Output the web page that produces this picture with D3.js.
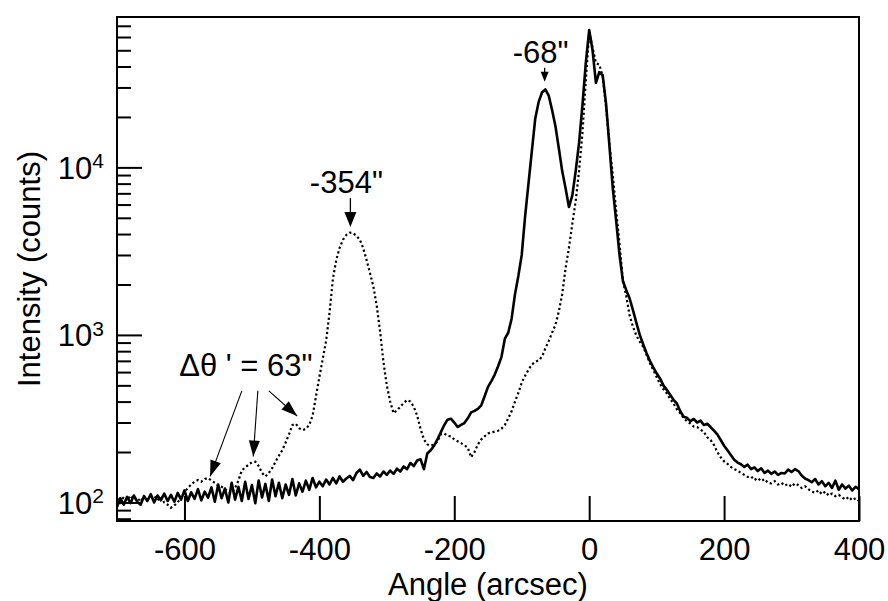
<!DOCTYPE html>
<html>
<head>
<meta charset="utf-8">
<script src="https://cdn.jsdelivr.net/npm/d3@7"></script>
<style>
  html, body { margin: 0; padding: 0; background: #fff; }
  svg { display: block; font-family: "Liberation Sans", Arial, Helvetica, sans-serif; }
</style>
</head>
<body>
<svg id="chart" width="888" height="601"></svg>
<script>
// Rocking curves, sampled every 5 arcsec from -700 to +400
const ANGLE_START = -700;
const ANGLE_STEP = 5;

// solid curve (counts)
const solidCounts = [
  94, 106, 97, 108, 99, 110, 101, 97, 109, 102,           // -700
  112, 100, 110, 103, 113, 102, 111, 101, 114, 104,       // -650
  118, 102, 115, 105, 120, 103, 116, 107, 123, 101,       // -600
  128, 106, 121, 100, 131, 104, 124, 102, 133, 105,       // -550
  127, 99, 135, 107, 129, 102, 137, 109, 131, 106,        // -500
  128, 111, 138, 110, 130, 116, 135, 119, 140, 123,       // -450
  133, 125, 137, 128, 140, 130, 143, 133, 139, 144,       // -400
  136, 150, 157, 144, 152, 142, 140, 149, 143, 153,       // -350
  146, 155, 148, 159, 153, 164, 158, 172, 165, 178,       // -300
  181, 158, 196, 205, 218, 238, 262, 289, 312, 316,       // -250
  300, 282, 290, 298, 318, 345, 352, 362, 380, 430,       // -200
  490, 530, 580, 650, 740, 950, 1030, 1250, 1750, 2250,   // -150
  3000, 5100, 8000, 12500, 19500, 24500, 28000, 29200, 26800, 22000, // -100
  17600, 13000, 9500, 7500, 5800, 6800, 9500, 14000, 23500, 42000,   // -50
  66000, 50000, 32000, 37000, 35500, 24000, 13500, 7500, 4800, 3000, // 0
  2100, 1850, 1650, 1400, 1180, 1000, 880, 780, 700, 640, // 50
  590, 550, 500, 470, 440, 410, 390, 350, 325, 320,       // 100
  306, 315, 300, 308, 290, 295, 282, 268, 255, 236,       // 150
  218, 205, 192, 180, 173, 169, 163, 168, 158, 162,       // 200
  154, 160, 150, 155, 148, 153, 146, 150, 149, 157,       // 250
  152, 158, 154, 145, 139, 136, 132, 138, 128, 134,       // 300
  125, 131, 122, 135, 119, 128, 121, 126, 118, 124,       // 350
  120                                                     // 400
];

// dotted curve (counts)
const dottedCounts = [
  106, 100, 108, 103, 110, 104, 107, 101, 109, 104,       // -700
  106, 110, 103, 108, 100, 97, 93, 96, 100, 108,          // -650
  115, 122, 128, 133, 136, 133, 138, 140, 135, 131,       // -600
  126, 124, 120, 116, 114, 122, 135, 155, 162, 168,       // -550
  174, 175, 165, 150, 143, 150, 160, 175, 190, 205,       // -500
  228, 255, 290, 295, 278, 270, 275, 290, 330, 430,       // -450
  560, 720, 920, 1350, 2150, 2800, 3300, 3700, 3950, 4080, // -400
  4050, 3900, 3700, 3300, 2800, 2350, 1950, 1500, 1050, 690, // -350
  500, 400, 341, 355, 373, 392, 409, 400, 372, 330,       // -300
  275, 238, 222, 218, 222, 230, 255, 258, 250, 248,       // -250
  238, 232, 226, 220, 212, 186, 200, 222, 238, 248,       // -200
  258, 262, 265, 268, 276, 290, 318, 350, 400, 450,       // -150
  520, 570, 620, 665, 690, 705, 740, 830, 920, 1030,      // -100
  1150, 1380, 1750, 2500, 3300, 4600, 6300, 9500, 16000, 33000, // -50
  64000, 52000, 42000, 41000, 35000, 23000, 14000, 9000, 5500, 3500, // 0
  2100, 1700, 1300, 1120, 990, 910, 850, 760, 680, 618,   // 50
  560, 510, 475, 448, 415, 390, 360, 341, 320, 305,       // 100
  296, 284, 282, 272, 264, 245, 236, 220, 200, 186,       // 150
  176, 170, 163, 158, 155, 150, 146, 142, 143, 136,       // 200
  140, 134, 138, 131, 130, 134, 128, 131, 126, 129,       // 250
  124, 130, 127, 122, 125, 120, 116, 114, 118, 112,       // 300
  116, 110, 113, 109, 111, 107, 104, 108, 103, 106,       // 350
  102                                                     // 400
];

const xTicks = [-600, -400, -200, 0, 200, 400];
const yMajorTicks = [100, 1000, 10000];
const yMinorTicks = [80, 90, 200, 300, 400, 500, 600, 700, 800, 900,
  2000, 3000, 4000, 5000, 6000, 7000, 8000, 9000,
  20000, 30000, 40000, 50000, 60000, 70000];

// peak annotations (arrow tip in data units)
const peakLabels = ['-68"', '-354"'];
const peakAngles = [-66, -354];
const peakCounts = [32400, 4400];

// satellite peaks pointed at by the Δθ' label
const fringeLabel = "Δθ ' = 63\"";
const fringeLabelAt = { angle: -509, counts: 570 };
const fringeAngles = [-562, -498, -433];
const fringeCounts = [143, 188, 328];

const W = 888, H = 601;
const margin = { top: 17, right: 29, bottom: 80, left: 117 };
const plotW = W - margin.left - margin.right;
const plotH = H - margin.top - margin.bottom;
const FONT = 31;

const svg = d3.select('#chart');
const g = svg.append('g').attr('transform', `translate(${margin.left},${margin.top})`);

const x = d3.scaleLinear().domain([-700, 400]).range([0, plotW]);
const y = d3.scaleLog().domain([77.5, 79000]).range([plotH, 0]);

const toPoints = arr => arr.map((c, i) => ({ angle: ANGLE_START + i * ANGLE_STEP, counts: c }));
const line = d3.line().x(d => x(d.angle)).y(d => y(d.counts));

g.append('clipPath').attr('id', 'plot-clip')
  .append('rect').attr('width', plotW).attr('height', plotH);

// x axis, ticks pointing inward
g.append('g')
  .attr('transform', `translate(0,${plotH})`)
  .call(d3.axisBottom(x).tickValues(xTicks).tickSize(-25).tickSizeOuter(0)
    .tickPadding(17).tickFormat(d => String(d)));

// y axis: minor then major ticks
g.append('g')
  .call(d3.axisLeft(y).tickValues(yMinorTicks).tickSize(-14).tickSizeOuter(0).tickFormat(''));
const yAxis = g.append('g')
  .call(d3.axisLeft(y).tickValues(yMajorTicks).tickSize(-25).tickSizeOuter(0).tickPadding(13));

g.selectAll('.domain').remove();
g.selectAll('.tick line').attr('stroke', '#000').attr('stroke-width', 2);
g.selectAll('.tick text').attr('fill', '#000').attr('font-size', FONT).attr('font-family', null);

yAxis.selectAll('.tick text').each(function (d) {
  const t = d3.select(this);
  t.text(null).attr('dy', '0.35em');
  t.append('tspan').text('10');
  t.append('tspan').attr('dy', '-0.5em').attr('font-size', 21).text(Math.round(Math.log10(d)));
});

// curves
const curves = g.append('g').attr('clip-path', 'url(#plot-clip)');
curves.append('path')
  .datum(toPoints(dottedCounts))
  .attr('d', line)
  .attr('fill', 'none')
  .attr('stroke', '#000')
  .attr('stroke-width', 2.2)
  .attr('stroke-dasharray', '2.2 2.6');
curves.append('path')
  .datum(toPoints(solidCounts))
  .attr('d', line)
  .attr('fill', 'none')
  .attr('stroke', '#000')
  .attr('stroke-width', 2.6)
  .attr('stroke-linejoin', 'round');

// frame
g.append('rect')
  .attr('width', plotW).attr('height', plotH)
  .attr('fill', 'none').attr('stroke', '#000').attr('stroke-width', 2);

function arrowHead(x1, y1, x2, y2, len, half) {
  const dx = x2 - x1, dy = y2 - y1, L = Math.hypot(dx, dy);
  const ux = dx / L, uy = dy / L;
  const bx = x2 - ux * len, by = y2 - uy * len;
  return `M${x2},${y2}L${bx - uy * half},${by + ux * half}L${bx + uy * half},${by - ux * half}Z`;
}

// peak labels with short down arrows
const peakArrowLen = [14, 29];
const peakHead = [10, 15];
peakLabels.forEach((label, i) => {
  const tx = x(peakAngles[i]), ty = y(peakCounts[i]);
  const top = ty - peakArrowLen[i];
  g.append('text')
    .attr('x', tx - 4).attr('y', top - 5)
    .attr('text-anchor', 'middle')
    .attr('font-size', FONT)
    .text(label);
  g.append('line')
    .attr('x1', tx).attr('y1', top).attr('x2', tx).attr('y2', ty - peakHead[i] + 1)
    .attr('stroke', '#000').attr('stroke-width', 1.3);
  g.append('path')
    .attr('d', arrowHead(tx, top, tx, ty, peakHead[i], peakHead[i] * 0.4))
    .attr('fill', '#000');
});

// Δθ' label with three arrows
const lx = x(fringeLabelAt.angle), ly = y(fringeLabelAt.counts);
g.append('text')
  .attr('x', lx).attr('y', ly)
  .attr('text-anchor', 'middle')
  .attr('font-size', FONT)
  .text(fringeLabel);
const startOffsets = [-4, 12, 23];
fringeAngles.forEach((a, i) => {
  const x1 = lx + startOffsets[i], y1 = ly + 15;
  const x2 = x(a), y2 = y(fringeCounts[i]);
  g.append('line')
    .attr('x1', x1).attr('y1', y1).attr('x2', x2).attr('y2', y2)
    .attr('stroke', '#000').attr('stroke-width', 1.1);
  g.append('path')
    .attr('d', arrowHead(x1, y1, x2, y2, 16, 5.5))
    .attr('fill', '#000');
});

// axis titles
svg.append('text')
  .attr('x', margin.left + plotW / 2).attr('y', 595)
  .attr('text-anchor', 'middle')
  .attr('font-size', FONT)
  .text('Angle (arcsec)');
svg.append('text')
  .attr('transform', `translate(40,${margin.top + plotH / 2}) rotate(-90)`)
  .attr('text-anchor', 'middle')
  .attr('font-size', FONT)
  .text('Intensity (counts)');
</script>
</body>
</html>
